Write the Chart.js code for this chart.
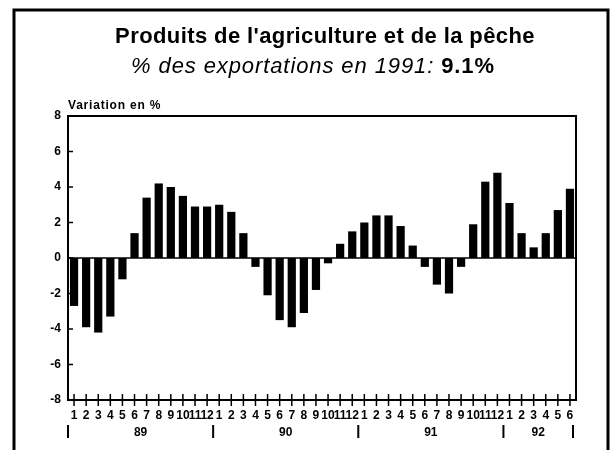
<!DOCTYPE html>
<html>
<head>
<meta charset="utf-8">
<script src="https://cdn.jsdelivr.net/npm/chart.js@4/dist/chart.umd.min.js"></script>
<style>
  body { margin: 0; background: #fff; }
  #wrap { position: relative; width: 614px; height: 450px; font-family: "Liberation Sans", Arial, sans-serif; }
  #wrap canvas { position: absolute; left: 0; top: 0; }
  .ttl { position: absolute; width: 614px; text-align: center; color: #000; white-space: nowrap; }
  #t1 { top: 23px; left: 18px; font-size: 22px; font-weight: bold; letter-spacing: 0.4px; }
  #t2 { top: 53px; left: 6px; font-size: 22px; font-style: italic; letter-spacing: 0.9px; }
  #t2 b { font-style: normal; }
</style>
</head>
<body>
<div id="wrap">
  <canvas id="myChart" width="614" height="450"></canvas>
  <div class="ttl" id="t1">Produits de l'agriculture et de la pêche</div>
  <div class="ttl" id="t2">% des exportations en 1991: <b>9.1%</b></div>
</div>
<script>
// months Jan 89 .. Jun 92
const months = [
  '1','2','3','4','5','6','7','8','9','10','11','12',
  '1','2','3','4','5','6','7','8','9','10','11','12',
  '1','2','3','4','5','6','7','8','9','10','11','12',
  '1','2','3','4','5','6'
]
const variation = [
  -2.7, -3.9, -4.2, -3.3, -1.2, 1.4, 3.4, 4.2, 4.0, 3.5, 2.9, 2.9,
  3.0, 2.6, 1.4, -0.5, -2.1, -3.5, -3.9, -3.1, -1.8, -0.3, 0.8, 1.5,
  2.0, 2.4, 2.4, 1.8, 0.7, -0.5, -1.5, -2.0, -0.5, 1.9, 4.3, 4.8,
  3.1, 1.4, 0.6, 1.4, 2.7, 3.9
]
const years = ['89', '90', '91', '92']
const yearMonths = [12, 12, 12, 6]
const yTicks = [-8, -6, -4, -2, 0, 2, 4, 6, 8]

const family = '"Liberation Sans", Arial, sans-serif'

const decor = {
    id: 'decor',
    afterDraw(chart) {
        const { ctx, chartArea: a, scales: { x, y } } = chart
        ctx.save()
        ctx.strokeStyle = '#000'
        ctx.fillStyle = '#000'

        // outer frame (open at the bottom)
        ctx.lineWidth = 3
        ctx.beginPath()
        ctx.moveTo(14, 452); ctx.lineTo(14, 10); ctx.lineTo(608, 10); ctx.lineTo(608, 452)
        ctx.stroke()

        // plot box
        ctx.lineWidth = 2
        ctx.strokeRect(a.left, a.top, a.width, a.height)

        // zero line
        ctx.lineWidth = 1.5
        const y0 = y.getPixelForValue(0)
        ctx.beginPath(); ctx.moveTo(a.left, y0); ctx.lineTo(a.right, y0); ctx.stroke()

        // inward y ticks
        yTicks.slice(1, -1).forEach(v => {
            const yy = y.getPixelForValue(v)
            ctx.beginPath(); ctx.moveTo(a.left, yy); ctx.lineTo(a.left + 5, yy); ctx.stroke()
        })

        // crossing x ticks
        months.forEach((m, i) => {
            const xx = x.getPixelForValue(i)
            ctx.beginPath(); ctx.moveTo(xx, a.bottom - 6); ctx.lineTo(xx, a.bottom + 6); ctx.stroke()
        })

        // years with separators
        const w = a.width / months.length
        ctx.font = 'bold 12px ' + family
        ctx.textAlign = 'center'
        ctx.textBaseline = 'middle'
        ctx.lineWidth = 2
        let k = 0
        years.forEach((yr, j) => {
            const x1 = x.getPixelForValue(k) - w / 2
            const x2 = x.getPixelForValue(k + yearMonths[j] - 1) + w / 2 - (j === years.length - 1 ? 3 : 0)
            if (j === 0) { ctx.beginPath(); ctx.moveTo(x1, 425); ctx.lineTo(x1, 438); ctx.stroke() }
            ctx.beginPath(); ctx.moveTo(x2, 425); ctx.lineTo(x2, 438); ctx.stroke()
            ctx.fillText(yr, (x1 + x2) / 2, 433)
            k += yearMonths[j]
        })

        // axis caption
        ctx.textAlign = 'left'
        ctx.textBaseline = 'alphabetic'
        ctx.font = 'bold 12px ' + family
        ctx.letterSpacing = '0.8px'
        ctx.fillText('Variation en %', a.left, 109)
        ctx.restore()
    }
}

new Chart(document.getElementById('myChart'), {
    type: 'bar',
    data: {
        labels: months,
        datasets: [{
            data: variation,
            backgroundColor: '#000',
            barPercentage: 0.68,
            categoryPercentage: 1.0
        }]
    },
    options: {
        responsive: false,
        animation: false,
        devicePixelRatio: 1,
        layout: { padding: { top: 116, right: 38, bottom: 0, left: 0 } },
        plugins: { legend: { display: false }, tooltip: { enabled: false } },
        scales: {
            x: {
                offset: true,
                grid: { display: false, drawTicks: false },
                border: { display: false },
                ticks: { color: '#000', font: { family: family, weight: 'bold', size: 12 }, autoSkip: false, maxRotation: 0, padding: 8 },
                afterFit: s => { s.height = 50 }
            },
            y: {
                min: -8,
                max: 8,
                grid: { display: false, drawTicks: false },
                border: { display: false },
                ticks: { color: '#000', font: { family: family, weight: 'bold', size: 12 }, stepSize: 2, padding: 7 },
                afterFit: s => { s.width = 68 }
            }
        }
    },
    plugins: [decor]
})
</script>
</body>
</html>
